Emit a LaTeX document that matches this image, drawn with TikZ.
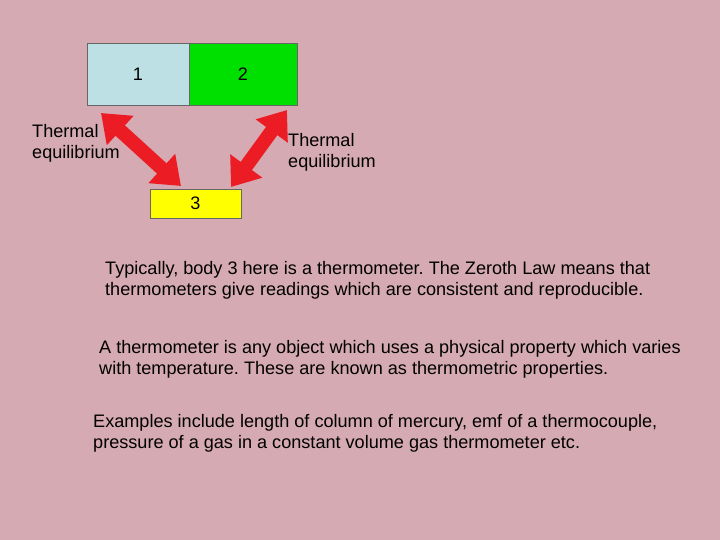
\documentclass[tikz,border=0pt]{standalone}
\usepackage{fontspec}
\setmainfont{Liberation Sans}
\usetikzlibrary{arrows.meta}
\frenchspacing
\definecolor{bgpink}{RGB}{214,170,178}
\definecolor{boxblue}{RGB}{188,224,228}
\definecolor{boxgreen}{RGB}{0,224,0}
\definecolor{boxyellow}{RGB}{255,255,0}
\definecolor{arrred}{RGB}{236,28,36}
\begin{document}
\begin{tikzpicture}[x=1pt,y=-1pt,
  nodes = {font=\fontsize{18.1}{21.5}\selectfont},
  body/.style = {draw=black!60, minimum height=62pt, inner sep=0pt},
  eqarrow/.style = {draw=arrred, line width=14pt,
    {Triangle[length=26pt,width=38pt]}-{Triangle[length=26pt,width=38pt]}},
  note/.style = {align=left, anchor=north west, inner sep=0pt}]
  \fill[bgpink] (0,0) rectangle (720,540);
  \useasboundingbox (0,0) rectangle (720,540);
  % bodies
  \node[body, fill=boxblue, minimum width=102pt] (b1) at (138,74) {1};
  \node[body, fill=boxgreen, minimum width=108pt] (b2) at (243,74) {2};
  \node[body, fill=boxyellow, minimum width=91pt, minimum height=29pt] (b3) at (195.5,203.5) {3};
  % equilibrium arrows
  \coordinate (l1) at (101,113);
  \coordinate (l3) at (181,186);
  \coordinate (r2) at (287,110);
  \coordinate (r3) at (231,187);
  \draw[eqarrow] (l1) -- (l3);
  \draw[eqarrow] (r2) -- (r3);
  \node[note] (t1) at (32,124) {Thermal\\equilibrium};
  \node[note] (t2) at (288,133) {Thermal\\equilibrium};
  % text
  \node[note] (p1) at (105,261) {Typically, body 3 here is a thermometer. The Zeroth Law means that\\thermometers give readings which are consistent and reproducible.};
  \node[note] (p2) at (99,340) {A thermometer is any object which uses a physical property which varies\\with temperature. These are known as thermometric properties.};
  \node[note] (p3) at (93,414) {Examples include length of column of mercury, emf of a thermocouple,\\pressure of a gas in a constant volume gas thermometer etc.};
\end{tikzpicture}
\end{document}
